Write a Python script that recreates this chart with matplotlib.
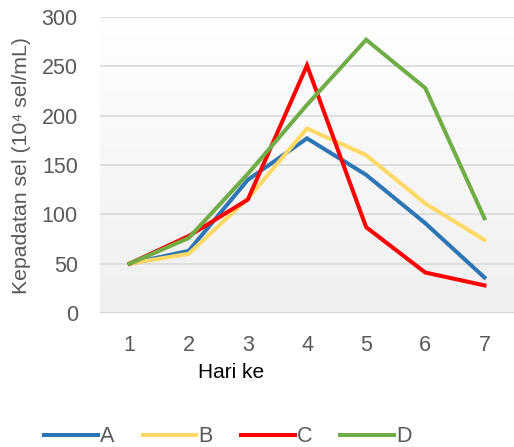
import numpy as np
import matplotlib
matplotlib.use("Agg")
import matplotlib.pyplot as plt
from matplotlib.lines import Line2D

days = [1, 2, 3, 4, 5, 6, 7]
A = [50, 63, 135, 177, 140, 91, 36]
B = [50, 60, 116, 187, 160, 111, 74]
C = [50, 78, 115, 251, 87, 41, 28]
D = [50, 76, 141, 211, 277, 228, 96]
series_names = ["A", "B", "C", "D"]
colors = ["#2E75B6", "#FFD966", "#FF0000", "#70AD47"]
yticks = [0, 50, 100, 150, 200, 250, 300]

plt.rcParams['font.family'] = ['Liberation Sans', 'DejaVu Sans']

fig = plt.figure(figsize=(5.14, 4.47), dpi=100)
ax = fig.add_axes([100/514, 1-313/447, 414/514, 296/447])

# gradient background
grad = np.linspace(0, 1, 256).reshape(-1, 1)
cmap = matplotlib.colors.LinearSegmentedColormap.from_list("g", ["#ffffff", "#efefef"])
ax.imshow(grad, extent=[0, 1, 0, 1], transform=ax.transAxes, aspect='auto',
          cmap=cmap, zorder=0, origin='upper')

for y in yticks:
    ax.axhline(y, color="#d9d9d9" if y > 0 else "#d0d0d0", lw=1.2, zorder=1)

for vals, c, n in zip([A, B, C, D], colors, series_names):
    ax.plot(days, vals, color=c, lw=2.9, label=n, zorder=3, solid_joinstyle='miter')

ax.set_xlim(0.5, 7.5)
ax.set_ylim(0, 300)
ax.set_yticks(yticks)
ax.set_xticks(days)
ax.tick_params(length=0, labelsize=15.5, colors="#595959")
ax.tick_params(axis='y', pad=16)
ax.tick_params(axis='x', pad=16)
for s in ax.spines.values():
    s.set_visible(False)

fig.text(231/514, 1-372/447, "Hari ke", ha='center', va='center', fontsize=15, color='black')
fig.text(22/514, 1-165/447, "Kepadatan sel (10\u2074 sel/mL)", ha='center', va='center',
         rotation=90, fontsize=15.3, color="#595959")

handles = [Line2D([], [], color=c, lw=2.9) for c in colors]
leg = fig.legend(handles, series_names, loc='center', bbox_to_anchor=(228/514, 1-437/447),
                 ncol=4, frameon=False, fontsize=15.5, handlelength=2.5, handletextpad=0.1,
                 columnspacing=1.3, labelcolor="#595959")

fig.savefig("out.png", dpi=100)
